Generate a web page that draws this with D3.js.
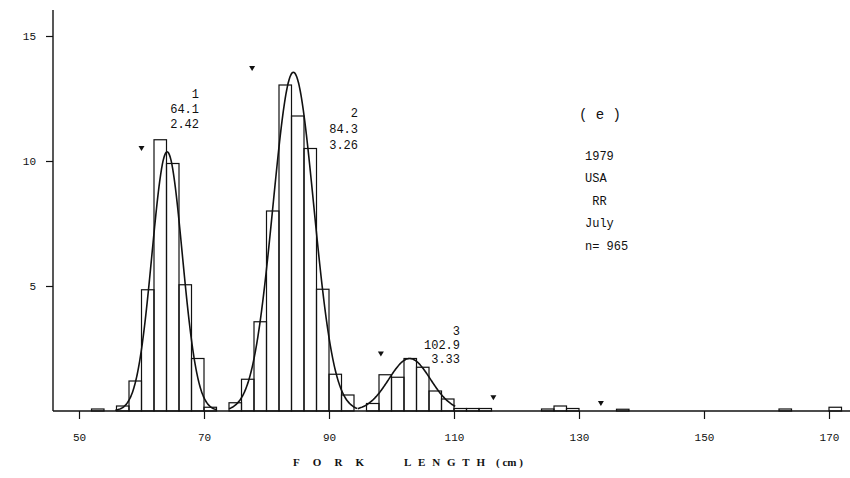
<!DOCTYPE html>
<html>
<head>
<meta charset="utf-8">
<script src="https://cdn.jsdelivr.net/npm/d3@7"></script>
<style>
  html, body { margin: 0; padding: 0; background: #fff; }
  svg { display: block; }
  text { fill: #111; }
</style>
</head>
<body>
<svg id="chart" width="850" height="478"></svg>
<script>
// Length-frequency histogram (2 cm classes, % of catch) with fitted normal components
const binLower = [52, 56, 58, 60, 62, 64, 66, 68, 70,
                  74, 76, 78, 80, 82, 84, 86, 88, 90, 92,
                  96, 98, 100, 102, 104, 106, 108, 110, 112, 114,
                  124, 126, 128, 136, 162, 170];
const binPct = [0.08, 0.2, 1.2, 4.85, 10.85, 9.9, 5.05, 2.1, 0.15,
                0.33, 1.27, 3.57, 8.0, 13.04, 11.8, 10.5, 4.87, 1.47, 0.64,
                0.3, 1.45, 1.35, 2.1, 1.75, 0.8, 0.48, 0.1, 0.1, 0.1,
                0.08, 0.2, 0.1, 0.07, 0.08, 0.15];
const binWidth = 2;

// Normal components: age group, mean, sd, share of catch (%)
const compAge = ["1", "2", "3"];
const compMean = [64.1, 84.3, 102.9];
const compSd = [2.42, 3.26, 3.33];
const compShare = [31.45, 55.37, 8.76];
const compFrom = [55.8, 74.0, 94.6];
const compTo = [72.0, 94.5, 110.2];

// Separation markers
const markX = [60.0, 77.7, 98.3, 116.3, 133.5];
const markY = [10.5, 13.7, 2.28, 0.53, 0.3];

const xTicks = [50, 70, 90, 110, 130, 150, 170];
const yTicks = [5, 10, 15];
const infoLines = ["1979", "USA", "\u00a0RR", "July", "n=\u00a0965"];
const panelLabel = "(\u00a0e\u00a0)";
const xTitleWords = ["FORK", "LENGTH", "(\u00a0cm\u00a0)"];

const svg = d3.select("#chart");
const x = d3.scaleLinear().domain([50, 170]).range([79, 829]);
const y = d3.scaleLinear().domain([0, 15]).range([411, 36]);
const mono = "'Liberation Mono', 'DejaVu Sans Mono', monospace";

// axes
const xAxis = svg.append("g").attr("transform", `translate(0,${y(0)})`)
  .call(d3.axisBottom(x).tickValues(xTicks).tickSize(8).tickPadding(14).tickFormat(d3.format("d")));
xAxis.select(".domain").remove();
xAxis.append("line").attr("x1", 53).attr("x2", 850).attr("y1", 0).attr("y2", 0)
  .attr("stroke", "#111").attr("stroke-width", 1.4);
xAxis.selectAll(".tick line").attr("stroke", "#111").attr("stroke-width", 1.2);
xAxis.selectAll(".tick text").attr("font-family", mono).attr("font-size", 11).attr("fill", "#111");

const yAxis = svg.append("g").attr("transform", `translate(53,0)`)
  .call(d3.axisLeft(y).tickValues(yTicks).tickSize(7).tickPadding(10).tickFormat(d3.format("d")));
yAxis.select(".domain").remove();
yAxis.append("line").attr("x1", 0).attr("x2", 0).attr("y1", 10).attr("y2", y(0))
  .attr("stroke", "#111").attr("stroke-width", 1.4);
yAxis.selectAll(".tick line").attr("stroke", "#111").attr("stroke-width", 1.2);
yAxis.selectAll(".tick text").attr("font-family", mono).attr("font-size", 11).attr("fill", "#111");

// histogram bars
svg.append("g").selectAll("rect").data(binLower).join("rect")
  .attr("x", d => x(d))
  .attr("width", d => x(d + binWidth) - x(d))
  .attr("y", (d, i) => y(binPct[i]))
  .attr("height", (d, i) => y(0) - y(binPct[i]))
  .attr("fill", "none").attr("stroke", "#111").attr("stroke-width", 1.2);

// fitted normal curves
const line = d3.line().x(p => x(p[0])).y(p => y(p[1])).curve(d3.curveBasis);
compMean.forEach((m, i) => {
  const s = compSd[i];
  const amp = compShare[i] * binWidth / (s * Math.sqrt(2 * Math.PI));
  const pts = d3.range(compFrom[i], compTo[i] + 0.001, 0.1)
    .map(v => [v, amp * Math.exp(-0.5 * ((v - m) / s) ** 2)]);
  svg.append("path").attr("d", line(pts))
    .attr("fill", "none").attr("stroke", "#111").attr("stroke-width", 1.6);
});

// component labels: age group, mean, sd
const labelAnchor = [[199, 94], [358, 113], [460, 331]];
const labelStep = [15, 16, 14];
compAge.forEach((a, i) => {
  const g = svg.append("g").attr("font-family", mono).attr("font-size", 12)
    .attr("text-anchor", "end");
  [a, compMean[i].toFixed(1), compSd[i].toFixed(2)].forEach((t, k) => {
    g.append("text").attr("x", labelAnchor[i][0])
      .attr("y", labelAnchor[i][1] + k * labelStep[i] + 4).text(t);
  });
});

// markers
svg.append("g").selectAll("path").data(markX).join("path")
  .attr("transform", (d, i) => `translate(${x(d)},${y(markY[i])})`)
  .attr("d", "M-3,-2.5L3,-2.5L0,2.5Z").attr("fill", "#111");

// panel label and sample info
svg.append("text").attr("x", 600).attr("y", 119).attr("text-anchor", "middle")
  .attr("font-family", mono).attr("font-size", 14).text(panelLabel);
svg.append("g").attr("font-family", mono).attr("font-size", 12)
  .selectAll("text").data(infoLines).join("text")
  .attr("x", 585).attr("y", (d, i) => 160 + i * 22.4)
  .text(d => d);

// axis title, letters spread wide
const titleX = [293, 404, 496];
const titleLen = [71, 81, null];
svg.append("g").attr("font-family", "'Liberation Serif', serif").attr("font-size", 11)
  .attr("font-weight", "bold")
  .selectAll("text").data(xTitleWords).join("text")
  .attr("x", (d, i) => titleX[i]).attr("y", 466)
  .attr("textLength", (d, i) => titleLen[i])
  .attr("lengthAdjust", (d, i) => titleLen[i] ? "spacing" : null)
  .text(d => d);
</script>
</body>
</html>
